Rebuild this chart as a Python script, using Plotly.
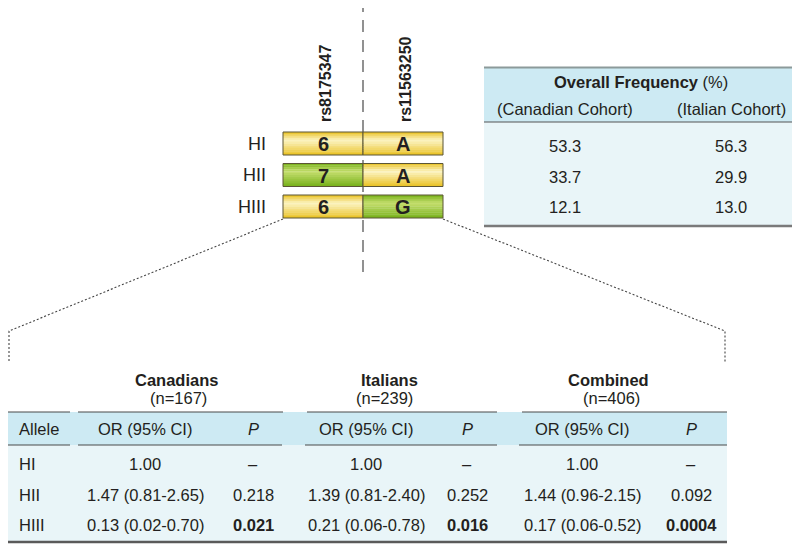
import plotly.graph_objects as go

# ---------------- data ----------------
haplotypes = ["HI", "HII", "HIII"]
snp_names = ["rs8175347", "rs11563250"]
allele_snp1 = ["6", "7", "6"]
allele_snp2 = ["A", "A", "G"]

freq_header = ["(Canadian Cohort)", "(Italian Cohort)"]
freq_canadian = [53.3, 33.7, 12.1]
freq_italian = [56.3, 29.9, 13.0]

groups = ["Canadians", "Italians", "Combined"]
group_n = [167, 239, 406]
or_canadians = ["1.00", "1.47 (0.81-2.65)", "0.13 (0.02-0.70)"]
p_canadians = [None, 0.218, 0.021]
or_italians = ["1.00", "1.39 (0.81-2.40)", "0.21 (0.06-0.78)"]
p_italians = [None, 0.252, 0.016]
or_combined = ["1.00", "1.44 (0.96-2.15)", "0.17 (0.06-0.52)"]
p_combined = [None, 0.092, 0.0004]
p_text_canadians = ["–", "0.218", "0.021"]
p_text_italians = ["–", "0.252", "0.016"]
p_text_combined = ["–", "0.092", "0.0004"]
alpha = 0.05

# ---------------- layout constants ----------------
W, H = 800, 544
PAGE_OFFSET = 8          # default body margin of the html page
TXT = "#231f20"
FONT = "Arial, Liberation Sans, sans-serif"
FS = 16.5
HDR_BG = "#cdeaf3"
BODY_BG = "#e9f5f8"

box_x0, box_mid, box_x1 = 283, 363, 443
row_top0, row_pitch, box_h = 132, 31.5, 23

YELLOW_EDGE, YELLOW_LIGHT = (233, 193, 32), (252, 244, 196)
GREEN_EDGE, GREEN_LIGHT = (118, 176, 24), (198, 223, 112)

shapes = []
annotations = []


def lerp(c1, c2, t):
    return "rgb(%d,%d,%d)" % tuple(round(a + (b - a) * t) for a, b in zip(c1, c2))


def gradient_box(x0, x1, y0, y1, edge, light, n=12):
    for k in range(n):
        t = (k + 0.5) / n
        if t < 0.35:
            col = lerp(edge, light, t / 0.35)
        else:
            col = lerp(light, edge, (t - 0.35) / 0.65)
        ya = y0 + (y1 - y0) * k / n
        yb = y0 + (y1 - y0) * (k + 1) / n + 0.3
        shapes.append(dict(type="rect", x0=x0, x1=x1, y0=ya, y1=min(yb, y1),
                           fillcolor=col, line=dict(width=0), layer="above"))
    shapes.append(dict(type="rect", x0=x0, x1=x1, y0=y0, y1=y1,
                       line=dict(color="#5b5535", width=1), layer="above"))


def ann(x, y, text, size=FS, xanchor="center", yanchor="middle", **kw):
    annotations.append(dict(x=x, y=y, xref="x", yref="y", text=text, showarrow=False,
                            xanchor=xanchor, yanchor=yanchor,
                            font=dict(family=FONT, size=size, color=TXT), **kw))


def hline(x0, x1, y, color, width):
    shapes.append(dict(type="line", x0=x0, x1=x1, y0=y, y1=y,
                       line=dict(color=color, width=width)))


# ---------- vertical dashed line ----------
shapes.append(dict(type="line", x0=box_mid, x1=box_mid, y0=0, y1=272,
                   line=dict(color="#6d6d6d", width=1.5, dash="12px,8px")))

# ---------- haplotype boxes ----------
for i, hap in enumerate(haplotypes):
    y0 = row_top0 + i * row_pitch
    y1 = y0 + box_h
    yc = (y0 + y1) / 2
    for a, (xa, xb), ref in ((allele_snp1[i], (box_x0, box_mid), allele_snp1[0]),
                             (allele_snp2[i], (box_mid, box_x1), allele_snp2[0])):
        if a == ref:
            gradient_box(xa, xb, y0, y1, YELLOW_EDGE, YELLOW_LIGHT)
        else:
            gradient_box(xa, xb, y0, y1, GREEN_EDGE, GREEN_LIGHT)
        ann((xa + xb) / 2, yc + 0.5, "<b>%s</b>" % a, size=20)
    ann(268, yc, hap, size=18, xanchor="right")

# SNP names (rotated)
for name, xc in zip(snp_names, [(box_x0 + box_mid) / 2 + 2, (box_mid + box_x1) / 2 + 2]):
    ann(xc, 124, "<b>%s</b>" % name, size=16, yanchor="bottom", textangle=-90)

# ---------- dotted zoom lines ----------
left_edge = PAGE_OFFSET + 1
y_hap_bottom = row_top0 + 2 * row_pitch + box_h
shapes.append(dict(type="path",
                   path="M %g %g L %g 331 L %g 362" % (box_x0, y_hap_bottom + 1, left_edge, left_edge),
                   line=dict(color="#444444", width=1.1, dash="2px,2px")))
shapes.append(dict(type="path", path="M %g %g L 725 331 L 725 362" % (box_x1, y_hap_bottom + 1),
                   line=dict(color="#444444", width=1.1, dash="2px,2px")))

# ---------- overall frequency table ----------
ft_x0, ft_x1 = 484, 800
shapes.append(dict(type="rect", x0=ft_x0, x1=ft_x1, y0=67, y1=122, fillcolor=HDR_BG,
                   line=dict(width=0), layer="below"))
shapes.append(dict(type="rect", x0=ft_x0, x1=ft_x1, y0=122, y1=226, fillcolor=BODY_BG,
                   line=dict(width=0), layer="below"))
hline(ft_x0, ft_x1, 67.5, "#8c9a9a", 2)
hline(ft_x0, ft_x1, 122, "#555555", 1)
hline(ft_x0, ft_x1, 226, "#7a7a7a", 2.5)
ann(641, 82, "<b>Overall Frequency</b> (%)")
freq_cols = [565, 731]
for xc, h in zip(freq_cols, freq_header):
    ann(xc, 109, h)
for i in range(len(haplotypes)):
    y = 146 + i * 30.5
    ann(freq_cols[0], y, "%.1f" % freq_canadian[i])
    ann(freq_cols[1], y, "%.1f" % freq_italian[i])

# ---------- association table ----------
bt_x1 = 727
shapes.append(dict(type="rect", x0=0, x1=bt_x1, y0=412, y1=445, fillcolor=HDR_BG,
                   line=dict(width=0), layer="below"))
shapes.append(dict(type="rect", x0=0, x1=bt_x1, y0=445, y1=542, fillcolor=BODY_BG,
                   line=dict(width=0), layer="below"))
for (a, b) in [(0, 70), (78, 283), (307, 497), (522, 727)]:
    hline(a, b, 412, "#4a4a4a", 1.2)
for (a, b) in [(0, 70), (78, 282), (305, 497), (519, 727)]:
    hline(a, b, 445, "#4a4a4a", 1.2)
hline(0, bt_x1, 542, "#5a5a5a", 2.5)

title_x = [176, 389, 608]
n_x = [178, 384, 611]
or_x = [145, 366, 582]
p_x = [253, 467, 691]
or_cols = [or_canadians, or_italians, or_combined]
p_vals = [p_canadians, p_italians, p_combined]
p_txts = [p_text_canadians, p_text_italians, p_text_combined]

for g, name in enumerate(groups):
    ann(title_x[g], 380, "<b>%s</b>" % name)
    ann(n_x[g], 398, "(n=%d)" % group_n[g])
    ann(or_x[g], 429, "OR (95% CI)")
    ann(p_x[g], 429, "<i>P</i>")
    for i in range(len(haplotypes)):
        y = 464 + i * 30.5
        ann(or_x[g], y, or_cols[g][i])
        pv = p_vals[g][i]
        txt = p_txts[g][i]
        if pv is not None and pv < alpha:
            txt = "<b>%s</b>" % txt
        ann(p_x[g], y, txt)

ann(17, 429, "Allele", xanchor="left")
for i, hap in enumerate(haplotypes):
    ann(17, 464 + i * 30.5, hap, xanchor="left")

fig = go.Figure()
fig.add_trace(go.Scatter(x=[W / 2], y=[H / 2], mode="markers", marker=dict(opacity=0),
                         hoverinfo="skip", showlegend=False))
# the page places the figure 8px from the top-left corner, so the figure covers
# window pixels 8..800 x 8..544 and the axes are set to exactly that window span
fig.update_layout(
    width=W - PAGE_OFFSET, height=H - PAGE_OFFSET, margin=dict(l=0, r=0, t=0, b=0),
    paper_bgcolor="white", plot_bgcolor="white",
    xaxis=dict(range=[PAGE_OFFSET, W], visible=False, fixedrange=True),
    yaxis=dict(range=[H, PAGE_OFFSET], visible=False, fixedrange=True),
    shapes=shapes, annotations=annotations, showlegend=False,
)
fig.write_html("out.html")
